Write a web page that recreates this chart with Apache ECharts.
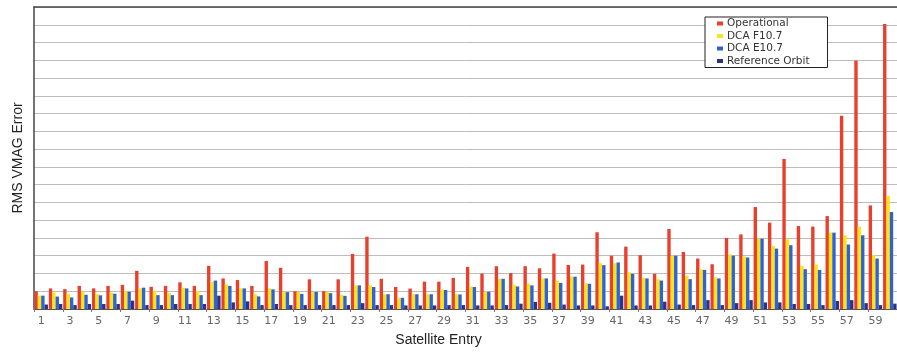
<!DOCTYPE html>
<html>
<head>
<meta charset="utf-8">
<script src="https://cdn.jsdelivr.net/npm/echarts@6/dist/echarts.min.js"></script>
<style>
  html, body { margin: 0; padding: 0; background: #fff; }
  #chart { width: 897px; height: 352px; }
</style>
</head>
<body>
<div id="chart"></div>
<script>
// satellite entries 1..60
const entries = [];
for (let i = 1; i <= 60; i++) entries.push(String(i));

const operational = [1.0, 1.16, 1.12, 1.3, 1.16, 1.3, 1.36, 2.15, 1.25, 1.3,
  1.5, 1.3, 2.43, 1.72, 1.63, 1.3, 2.7, 2.32, 1.0, 1.67,
  1.0, 1.67, 3.1, 4.07, 1.7, 1.24, 1.15, 1.54, 1.54, 1.75,
  2.37, 1.99, 2.41, 2.02, 2.41, 2.29, 3.12, 2.48, 2.5, 4.32,
  3.0, 3.51, 3.03, 1.98, 4.5, 3.21, 2.84, 2.52, 4.0, 4.2,
  5.74, 4.86, 8.45, 4.67, 4.64, 5.23, 10.88, 13.98, 5.83, 16.04];

const dcaF107 = [0.75, 0.93, 0.84, 0.97, 0.84, 0.93, 1.03, 1.16, 1.03, 0.9,
  1.2, 1.0, 1.53, 1.38, 1.16, 0.84, 1.16, 0.98, 0.96, 0.96,
  0.96, 0.8, 1.33, 1.33, 0.83, 0.63, 0.83, 0.83, 1.1, 0.83,
  1.27, 0.97, 1.7, 1.36, 1.43, 1.72, 1.59, 1.83, 1.45, 2.58,
  2.58, 2.06, 1.76, 1.68, 3.0, 1.87, 2.24, 1.78, 3.07, 2.95,
  3.96, 3.55, 3.93, 2.43, 2.5, 4.3, 4.15, 4.64, 3.03, 6.36];

const dcaE107 = [0.75, 0.7, 0.65, 0.8, 0.77, 0.86, 0.97, 1.2, 0.78, 0.78,
  1.16, 0.78, 1.6, 1.3, 1.16, 0.71, 1.11, 0.95, 0.85, 0.96,
  0.89, 0.74, 1.33, 1.24, 0.83, 0.63, 0.83, 0.83, 1.07, 0.82,
  1.24, 0.97, 1.7, 1.27, 1.33, 1.72, 1.47, 1.82, 1.42, 2.47,
  2.62, 1.98, 1.72, 1.6, 3.0, 1.68, 2.2, 1.72, 3.0, 2.9,
  3.96, 3.4, 3.59, 2.24, 2.2, 4.3, 3.63, 4.15, 2.84, 5.46];

const refOrbit = [0.25, 0.28, 0.22, 0.28, 0.28, 0.28, 0.47, 0.22, 0.22, 0.28,
  0.28, 0.28, 0.75, 0.37, 0.43, 0.22, 0.28, 0.22, 0.22, 0.22,
  0.22, 0.22, 0.33, 0.22, 0.22, 0.2, 0.2, 0.2, 0.22, 0.22,
  0.2, 0.2, 0.22, 0.3, 0.4, 0.35, 0.25, 0.2, 0.2, 0.15,
  0.75, 0.2, 0.2, 0.41, 0.25, 0.22, 0.5, 0.22, 0.33, 0.5,
  0.37, 0.37, 0.28, 0.28, 0.22, 0.45, 0.5, 0.33, 0.22, 0.3];

const seriesNames = ['Operational', 'DCA F10.7', 'DCA E10.7', 'Reference Orbit'];
const colors = ['#e8402c', '#ffe414', '#2f63d4', '#2b3482'];
const seriesValues = [operational, dcaF107, dcaE107, refOrbit];

const font = 'Liberation Sans, Arial, sans-serif';
const wideFont = 'DejaVu Sans, sans-serif';

const option = {
  animation: false,
  color: colors,
  grid: { left: 34, top: 7, width: 870, bottom: 42, containLabel: false },
  legend: {
    orient: 'vertical',
    left: 705,
    top: 17,
    data: seriesNames,
    itemWidth: 6,
    itemHeight: 4,
    itemGap: 1.5,
    icon: 'rect',
    backgroundColor: '#fff',
    borderColor: '#222',
    borderWidth: 1,
    borderRadius: 0,
    padding: [1, 18, 1, 12],
    textStyle: { fontFamily: wideFont, fontSize: 10.5, color: '#333', lineHeight: 10, padding: [0, 0, 0, -1] }
  },
  xAxis: [
    {
      type: 'category',
      data: entries,
      name: 'Satellite Entry',
      nameLocation: 'middle',
      nameGap: 24,
      nameTextStyle: { fontFamily: font, fontSize: 14, color: '#222', padding: [0, 54, 0, 0] },
      axisLine: { lineStyle: { color: '#555', width: 1 } },
      axisTick: { show: true, length: 3, lineStyle: { color: '#777' } },
      axisLabel: { interval: 1, fontFamily: wideFont, fontSize: 11, color: '#666', margin: 7 }
    },
    {
      type: 'category',
      position: 'top',
      data: entries,
      axisLine: { lineStyle: { color: '#444', width: 1.5 } },
      axisTick: { show: false },
      axisLabel: { show: false }
    }
  ],
  yAxis: {
    type: 'value',
    min: 0,
    max: 17,
    interval: 1,
    name: 'RMS VMAG Error',
    nameLocation: 'middle',
    nameGap: 9,
    nameTextStyle: { fontFamily: font, fontSize: 14, color: '#222' },
    axisLine: { show: true, lineStyle: { color: '#444', width: 1.5 } },
    axisTick: { show: false },
    axisLabel: { show: false },
    splitLine: { lineStyle: { color: '#bdbdbd', width: 1 } }
  },
  series: seriesNames.map((name, i) => ({
    name: name,
    type: 'bar',
    data: seriesValues[i],
    barGap: '0%',
    barCategoryGap: '6%',
    itemStyle: { color: colors[i] }
  }))
};

const myChart = echarts.init(document.getElementById('chart'));
myChart.setOption(option);
</script>
</body>
</html>
